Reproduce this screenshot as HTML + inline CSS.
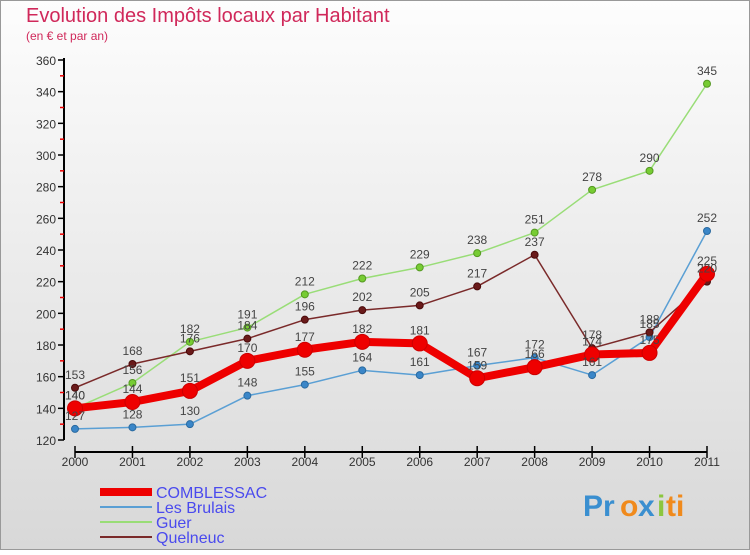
<!DOCTYPE html>
<html><head><meta charset="utf-8"><style>
body{margin:0;width:750px;height:550px;overflow:hidden;font-family:"Liberation Sans",sans-serif}
</style></head><body>
<svg width="750" height="550" xmlns="http://www.w3.org/2000/svg">
<defs><linearGradient id="bg" x1="0" y1="0" x2="0" y2="1"><stop offset="0" stop-color="#fdfdfd"/><stop offset="1" stop-color="#d8d8d8"/></linearGradient></defs>
<rect x="0.5" y="0.5" width="749" height="549" fill="url(#bg)" stroke="#999"/>
<text x="26" y="22" font-size="20" fill="#d0285a">Evolution des Impôts locaux par Habitant</text>
<text x="26" y="40" font-size="12" fill="#d0285a">(en € et par an)</text>
<g id="axes"></g><g id="series"></g><g id="labels"></g>
<g id="legend"></g>
<g font-size="30" font-weight="bold">
<text x="583" y="516" fill="#3a8fd0">Pr</text><text x="620" y="516" fill="#f08a1c">o</text><text x="638" y="516" fill="#3a8fd0">x</text><text x="657" y="516" fill="#8cc63f">i</text><text x="666" y="516" fill="#f08a1c">ti</text>
</g>
</svg>
<script>
const years=[2000,2001,2002,2003,2004,2005,2006,2007,2008,2009,2010,2011];
const yTicks=[120,140,160,180,200,220,240,260,280,300,320,340,360];
const comblessac=[140,144,151,170,177,182,181,159,166,174,175,225];
const lesBrulais=[127,128,130,148,155,164,161,167,172,161,185,252];
const guer=[140,156,182,191,212,222,229,238,251,278,290,345];
const quelneuc=[153,168,176,184,196,202,205,217,237,178,188,220];
const NS="http://www.w3.org/2000/svg";
const X=i=>75+i*(707-75)/11;
const Y=v=>440-(v-120)*380/240;
function mk(p,tag,at){const e=document.createElementNS(NS,tag);for(const k in at)e.setAttribute(k,at[k]);p.appendChild(e);return e;}
const ax=document.getElementById('axes');
const yl=mk(ax,'line',{x1:64,y1:58,x2:64,y2:440,stroke:'#000','stroke-width':2});


const xl=mk(ax,'line',{x1:75,y1:452,x2:707,y2:452,stroke:'#000','stroke-width':2});


yTicks.forEach(v=>{
 mk(ax,'line',{x1:58,y1:Y(v),x2:64,y2:Y(v),stroke:'#000','stroke-width':1.5});
 if(v<360) mk(ax,'line',{x1:60,y1:Y(v+10),x2:64,y2:Y(v+10),stroke:'#e00','stroke-width':1.5});
 const t=mk(ax,'text',{x:56,y:Y(v)+5,'text-anchor':'end','font-size':12,fill:'#333'});t.textContent=v;
 
 
});
years.forEach((yr,i)=>{
 mk(ax,'line',{x1:X(i),y1:446,x2:X(i),y2:458,stroke:'#000','stroke-width':1.5});
 const t=mk(ax,'text',{x:X(i),y:466,'text-anchor':'middle','font-size':12,fill:'#333'});t.textContent=yr;
 
 
});
const S=document.getElementById('series'),L=document.getElementById('labels');
function series(name,data,col,dot,w,r,dotStroke){
 const g=mk(S,'g',{});
 
 
 mk(g,'polyline',{points:data.map((v,i)=>X(i)+','+Y(v)).join(' '),fill:'none',stroke:col,'stroke-width':w,'stroke-linejoin':'round'});
 data.forEach((v,i)=>{
  const c=mk(g,'circle',{cx:X(i),cy:Y(v),r:r,fill:dot,stroke:dotStroke,'stroke-width':1});
  
  
  const t=mk(L,'text',{x:X(i),y:Y(v)-9,'text-anchor':'middle','font-size':12,fill:'#444'});t.textContent=v;
  
  
 });
}
series('les-brulais',lesBrulais,'#5a9fd4','#3a86c8',1.5,3.5,'#2a6aa0');
series('guer',guer,'#99dd77','#77cc33',1.5,3.5,'#559922');
series('quelneuc',quelneuc,'#7a2a2a','#6a1a1a',1.5,3.5,'#4a0a0a');
series('comblessac',comblessac,'#ee0000','#ee0000',8,7.5,'#cc0000');
const lg=document.getElementById('legend');
[['COMBLESSAC','#ee0000',8],['Les Brulais','#5a9fd4',2],['Guer','#99dd77',2],['Quelneuc','#7a2a2a',2]].forEach((d,i)=>{
 const y=492+i*15;
 const g=mk(lg,'g',{});
 
 
 mk(g,'line',{x1:100,y1:y,x2:152,y2:y,stroke:d[1],'stroke-width':d[2]});
 const t=mk(g,'text',{x:156,y:y+6,'font-size':16,fill:'#4a4aee'});t.textContent=d[0];
});
</script>
</body></html>
